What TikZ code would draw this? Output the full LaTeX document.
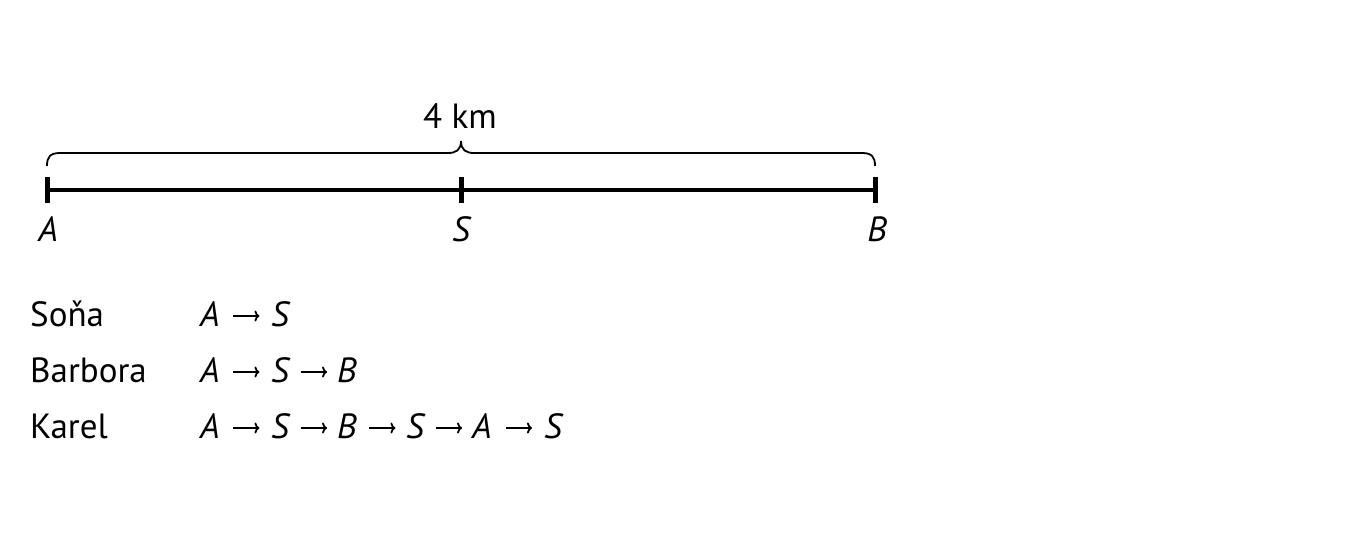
\documentclass[tikz,border=0pt]{standalone}
\usepackage{fontspec}
\setmainfont{PT Sans}
\usetikzlibrary{arrows.meta,calc}
\begin{document}
\begin{tikzpicture}[x=1pt,y=-1pt,
  txt/.style={inner sep=0pt,font=\fontsize{35}{40}\selectfont},
  pt/.style={txt,font=\fontsize{35}{40}\selectfont\itshape},
  seg/.style={line width=4pt},
  tick/.style={line width=5pt},
  brace/.style={line width=1.8pt},
  arr/.style={line width=1.8pt,-{To[length=5pt,width=11pt]}}]
\path[use as bounding box] (0,0) rectangle (1372,539);
\coordinate (pA) at (47,190);
\coordinate (pS) at (461,190);
\coordinate (pB) at (875,190);
\draw[seg] (pA) -- (pB);
\foreach \p in {pA,pS,pB}{\draw[tick] ([yshift=-13pt]\p) -- ([yshift=13pt]\p);}
\draw[brace] (47,166) .. controls (47,157) and (50,153) .. (60,153) -- (448,153)
  .. controls (456,153) and (461,150) .. (461,141)
  .. controls (461,150) and (466,153) .. (474,153) -- (862,153)
  .. controls (872,153) and (875,157) .. (875,166);
\node[txt,anchor=base] (km) at (460,128) {4 km};
\node[pt,anchor=base] (lA) at (48,241) {A};
\node[pt,anchor=base] (lS) at (461,241) {S};
\node[pt,anchor=base] (lB) at (877,241) {B};
\node[txt,anchor=base west] (n1) at (30,326) {Soňa};
\node[txt,anchor=base west] (n2) at (30,382) {Barbora};
\node[txt,anchor=base west] (n3) at (30,438) {Karel};
% routes
\foreach \l/\x [count=\i] in {A/200,S/271}
  \node[pt,anchor=base west] (ra\i) at (\x,326) {\l};
\foreach \l/\x [count=\i] in {A/200,S/271,B/337}
  \node[pt,anchor=base west] (rb\i) at (\x,382) {\l};
\foreach \l/\x [count=\i] in {A/200,S/271,B/337,S/406,A/472,S/544}
  \node[pt,anchor=base west] (rc\i) at (\x,438) {\l};
\foreach \r/\n in {ra/2,rb/3,rc/6}{
  \foreach \j [evaluate=\j as \i using int(\j-1)] in {2,...,\n}{
    \coordinate (m) at ($(\r\i.base east)!0.5!(\r\j.base west)+(1,-10)$);
    \draw[arr] ([xshift=-13pt]m) -- ([xshift=13pt]m);
  }
}
\end{tikzpicture}
\end{document}
